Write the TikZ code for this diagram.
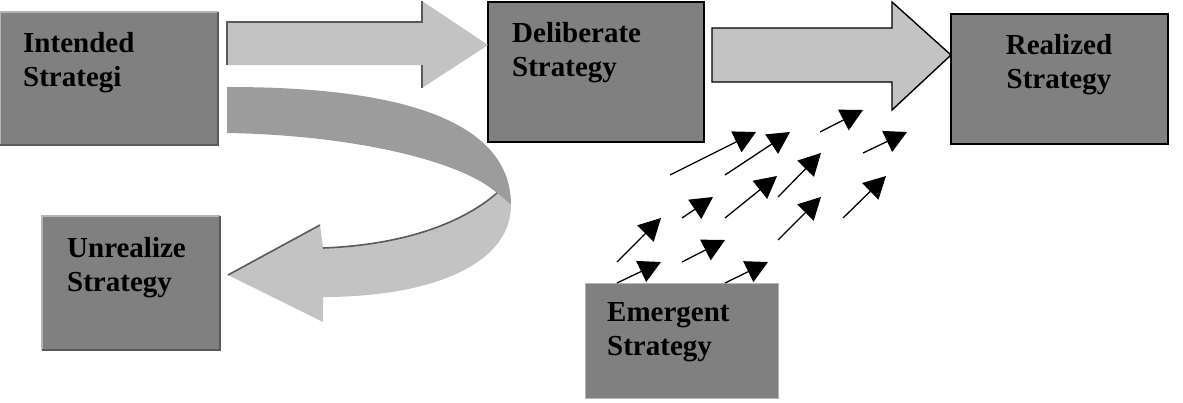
\documentclass[tikz,border=0pt]{standalone}
\usepackage{fontspec}
\setmainfont{Liberation Serif}
\usetikzlibrary{arrows.meta}
\definecolor{boxgray}{HTML}{808080}
\definecolor{lightar}{HTML}{C3C3C3}
\definecolor{ribdark}{HTML}{9C9C9C}
\definecolor{edgedark}{HTML}{5A5A5A}
\definecolor{edgelight}{HTML}{B4B4B4}
\begin{document}
\begin{tikzpicture}[x=1pt,y=-1pt,
  box/.style={fill=boxgray, inner sep=0pt, outer sep=0pt, anchor=north west},
  blackbox/.style={box, draw=black, line width=1.4pt},
  lbl/.style={font=\bfseries\fontsize{29}{34}\selectfont, inner sep=0pt, align=left, anchor=north west},
  smallar/.style={line width=1.3pt, -{Triangle[length=22pt,width=23pt]}},
  darkedge/.style={draw=edgedark, line width=1.6pt},
  lightedge/.style={draw=edgelight, line width=1.2pt}]
\useasboundingbox (0,0) rectangle (1183,402);

% curved ribbon arrow (behind boxes)
\fill[ribdark] (227,87) .. controls (340,87) and (511,100) .. (511,205)
  -- (497,193) .. controls (460,160) and (350,135) .. (227,133) -- cycle;
\fill[lightar] (511,205) .. controls (511,265) and (430,297) .. (323,297)
  -- (323,322) -- (228,275) -- (320,225) -- (323,248)
  .. controls (400,245) and (460,225) .. (497,193) -- cycle;
\draw[darkedge] (323,248) .. controls (400,245) and (460,225) .. (497,193);
\draw[darkedge] (228,275) -- (320,225);

% boxes
\node[box, minimum width=218pt, minimum height=133pt] (intended) at (0,12) {};
\draw[lightedge] (intended.south west) -- (intended.north west) -- (intended.north east);
\draw[darkedge, line width=2.2pt] (intended.north east) -- (intended.south east) -- (intended.south west);

\node[box, minimum width=178pt, minimum height=134pt] (unreal) at (42,216) {};
\draw[lightedge] (unreal.south west) -- (unreal.north west) -- (unreal.north east);
\draw[darkedge, line width=2.2pt] (unreal.north east) -- (unreal.south east) -- (unreal.south west);

\node[blackbox, minimum width=216pt, minimum height=140pt] (delib) at (488,2) {};
\node[blackbox, minimum width=217pt, minimum height=130pt] (real) at (951,14) {};
\node[box, draw=edgelight, line width=1pt, minimum width=193pt, minimum height=115pt] (emerg) at (585,283) {};

% straight block arrows
\fill[lightar] (227,22) -- (422,22) -- (422,1) -- (488,45) -- (422,88) -- (422,65) -- (227,65) -- cycle;
\draw[darkedge] (422,1) -- (422,22) -- (227,22) -- (227,65);
\draw[darkedge] (422,65) -- (422,88);

\filldraw[fill=lightar, draw=black, line width=1.4pt]
  (712,28) -- (892,28) -- (892,2) -- (951,55) -- (892,110) -- (892,82) -- (712,82) -- cycle;

% labels
\node[lbl] (tintended) at (23,32.4) {Intended\\Strategi};
\node[lbl] (tdelib) at (512,22.4) {Deliberate\\Strategy};
\node[lbl, align=center, anchor=north] (treal) at (1059,34.4) {Realized\\Strategy};
\node[lbl] (tunreal) at (67,237.4) {Unrealize\\Strategy};
\node[lbl] (temerg) at (607,302.8) {Emergent\\Strategy};

% emergent small arrows
\draw[smallar] (670,175) -- (756,132);
\draw[smallar] (725,175) -- (790,132);
\draw[smallar] (820,132) -- (863,110);
\draw[smallar] (863,153) -- (907,132);
\draw[smallar] (778,197) -- (821,153);
\draw[smallar] (725,218) -- (777,176);
\draw[smallar] (682,218) -- (713,197);
\draw[smallar] (617,262) -- (661,218);
\draw[smallar] (617,283) -- (661,262);
\draw[smallar] (682,262) -- (725,240);
\draw[smallar] (778,240) -- (821,197);
\draw[smallar] (843,218) -- (886,176);
\draw[smallar] (725,283) -- (768,262);
\end{tikzpicture}
\end{document}
